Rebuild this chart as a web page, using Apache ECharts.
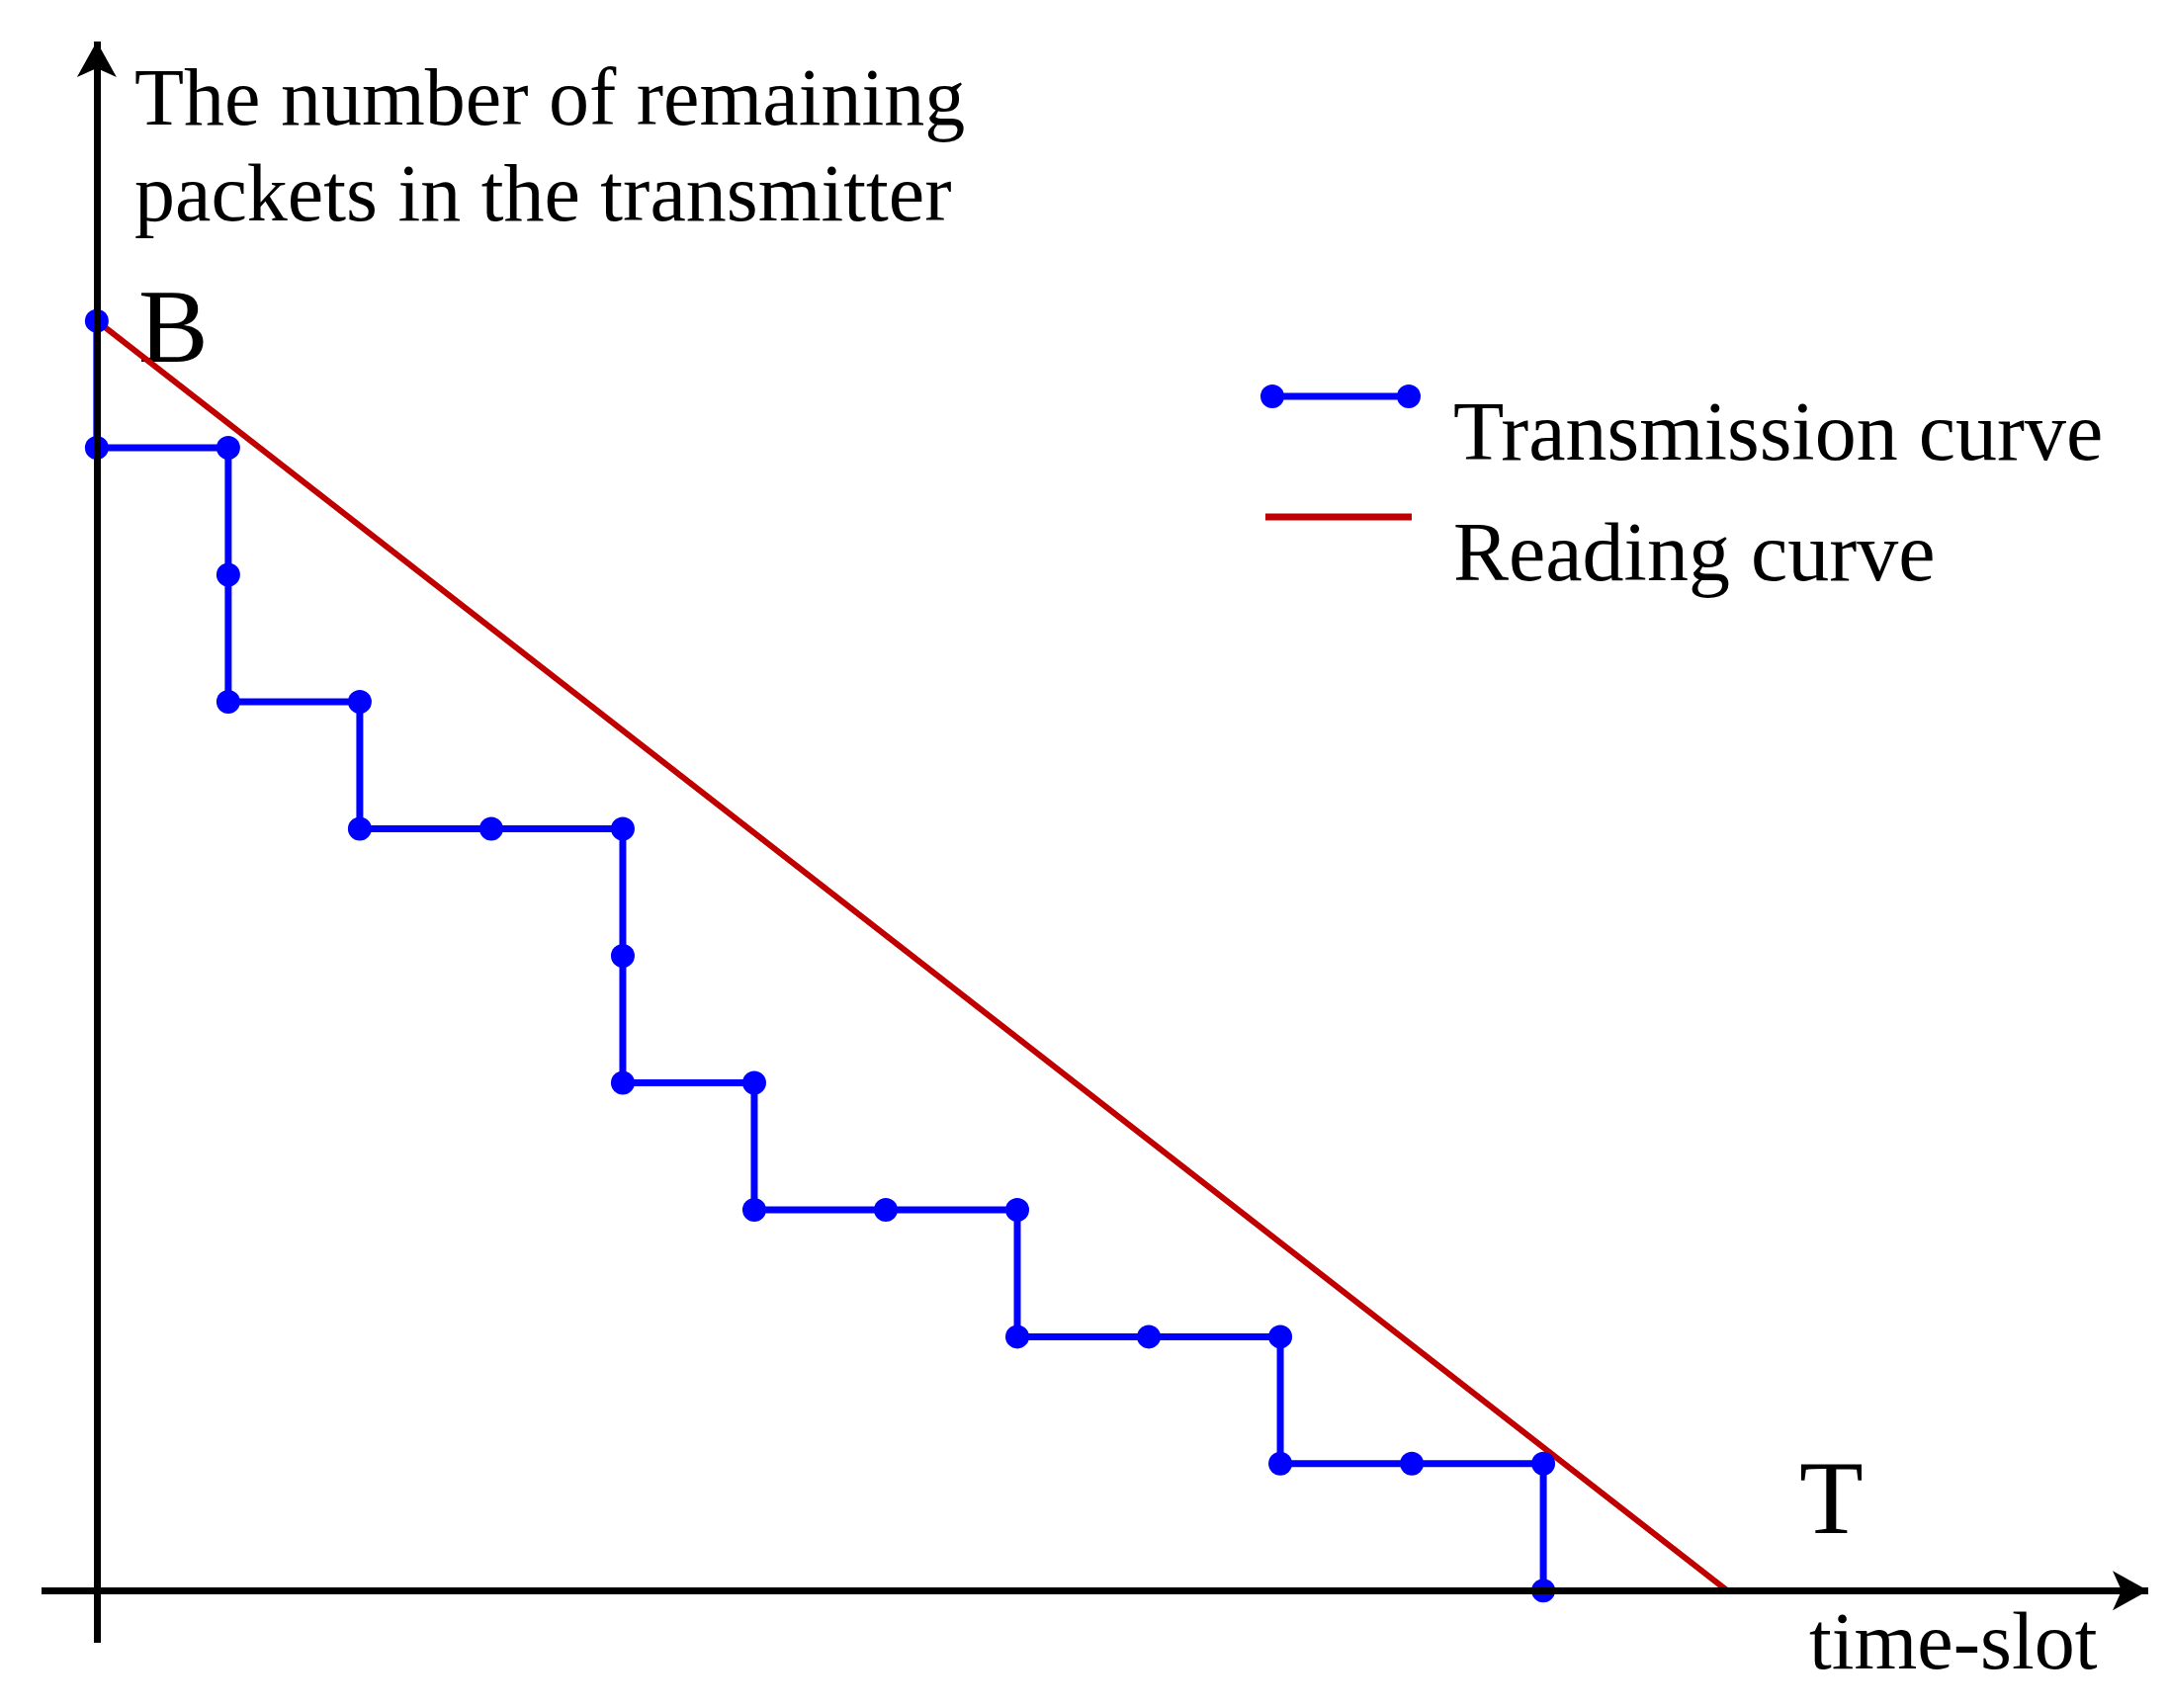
<!DOCTYPE html>
<html>
<head>
<meta charset="utf-8">
<script src="https://cdn.jsdelivr.net/npm/echarts@6/dist/echarts.min.js"></script>
<style>html,body{margin:0;background:#fff}#main{width:2194px;height:1728px}</style>
</head>
<body>
<div id="main"></div>
<script>
// transmission staircase (time-slot, remaining packets)
var transX = [0, 0, 1, 1, 1, 2, 2, 3, 4, 4, 4, 5, 5, 6, 7, 7, 8, 9, 9, 10, 11, 11];
var transY = [10, 9, 9, 8, 7, 7, 6, 6, 6, 5, 4, 4, 3, 3, 3, 2, 2, 2, 1, 1, 1, 0];
// reading curve end points
var readX = [0, 12.4];
var readY = [10, 0];

var trans = transX.map(function (x, i) { return [x, transY[i]]; });
var read = readX.map(function (x, i) { return [x, readY[i]]; });

var font = 'Liberation Serif';
var blue = '#0000ff', red = '#c00000';
var chart = echarts.init(document.getElementById('main'));
chart.setOption({
  animation: false,
  grid: { left: 42, top: 42, width: 2131, height: 1620 },
  xAxis: { type: 'value', min: -0.42, max: 15.6, show: false },
  yAxis: { type: 'value', min: -0.41, max: 12.2, show: false },
  graphic: [
    { type: 'text', left: 136, top: 56, style: { text: 'The number of remaining\npackets in the transmitter', font: '82px ' + font, lineHeight: 97, fill: '#000' } },
    { type: 'text', left: 140, top: 285, style: { text: 'B', font: '106px ' + font, fill: '#000' } },
    { type: 'text', left: 1820, top: 1470, style: { text: 'T', font: '106px ' + font, fill: '#000' } },
    { type: 'text', left: 1830, top: 1625, style: { text: 'time-slot', font: '82px ' + font, fill: '#000' } },
    // legend
    { type: 'line', shape: { x1: 1287, y1: 401, x2: 1425, y2: 401 }, style: { stroke: blue, lineWidth: 7 } },
    { type: 'circle', shape: { cx: 1287, cy: 401, r: 12 }, style: { fill: blue } },
    { type: 'circle', shape: { cx: 1425, cy: 401, r: 12 }, style: { fill: blue } },
    { type: 'text', left: 1470, top: 401, style: { text: 'Transmission curve', font: '84px ' + font, fill: '#000', verticalAlign: 'middle' } },
    { type: 'line', shape: { x1: 1280, y1: 523, x2: 1428, y2: 523 }, style: { stroke: red, lineWidth: 7 } },
    { type: 'text', left: 1470, top: 523, style: { text: 'Reading curve', font: '84px ' + font, fill: '#000', verticalAlign: 'middle' } }
  ],
  series: [
    {
      name: 'axes', type: 'line', data: [], silent: true,
      markLine: {
        silent: true, symbol: ['none', 'arrow'], symbolSize: [30, 36],
        lineStyle: { color: '#000', width: 7, type: 'solid' },
        label: { show: false },
        data: [
          [{ coord: [-0.42, 0] }, { coord: [15.6, 0] }],
          [{ coord: [0, -0.41] }, { coord: [0, 12.2] }]
        ]
      }
    },
    {
      name: 'Reading curve', type: 'line', data: read, showSymbol: false, symbol: 'none',
      lineStyle: { color: red, width: 6 }, itemStyle: { color: red }
    },
    {
      name: 'Transmission curve', type: 'line', data: trans,
      symbol: 'circle', symbolSize: 24,
      lineStyle: { color: blue, width: 7 }, itemStyle: { color: blue }
    }
  ]
});
</script>
</body>
</html>
